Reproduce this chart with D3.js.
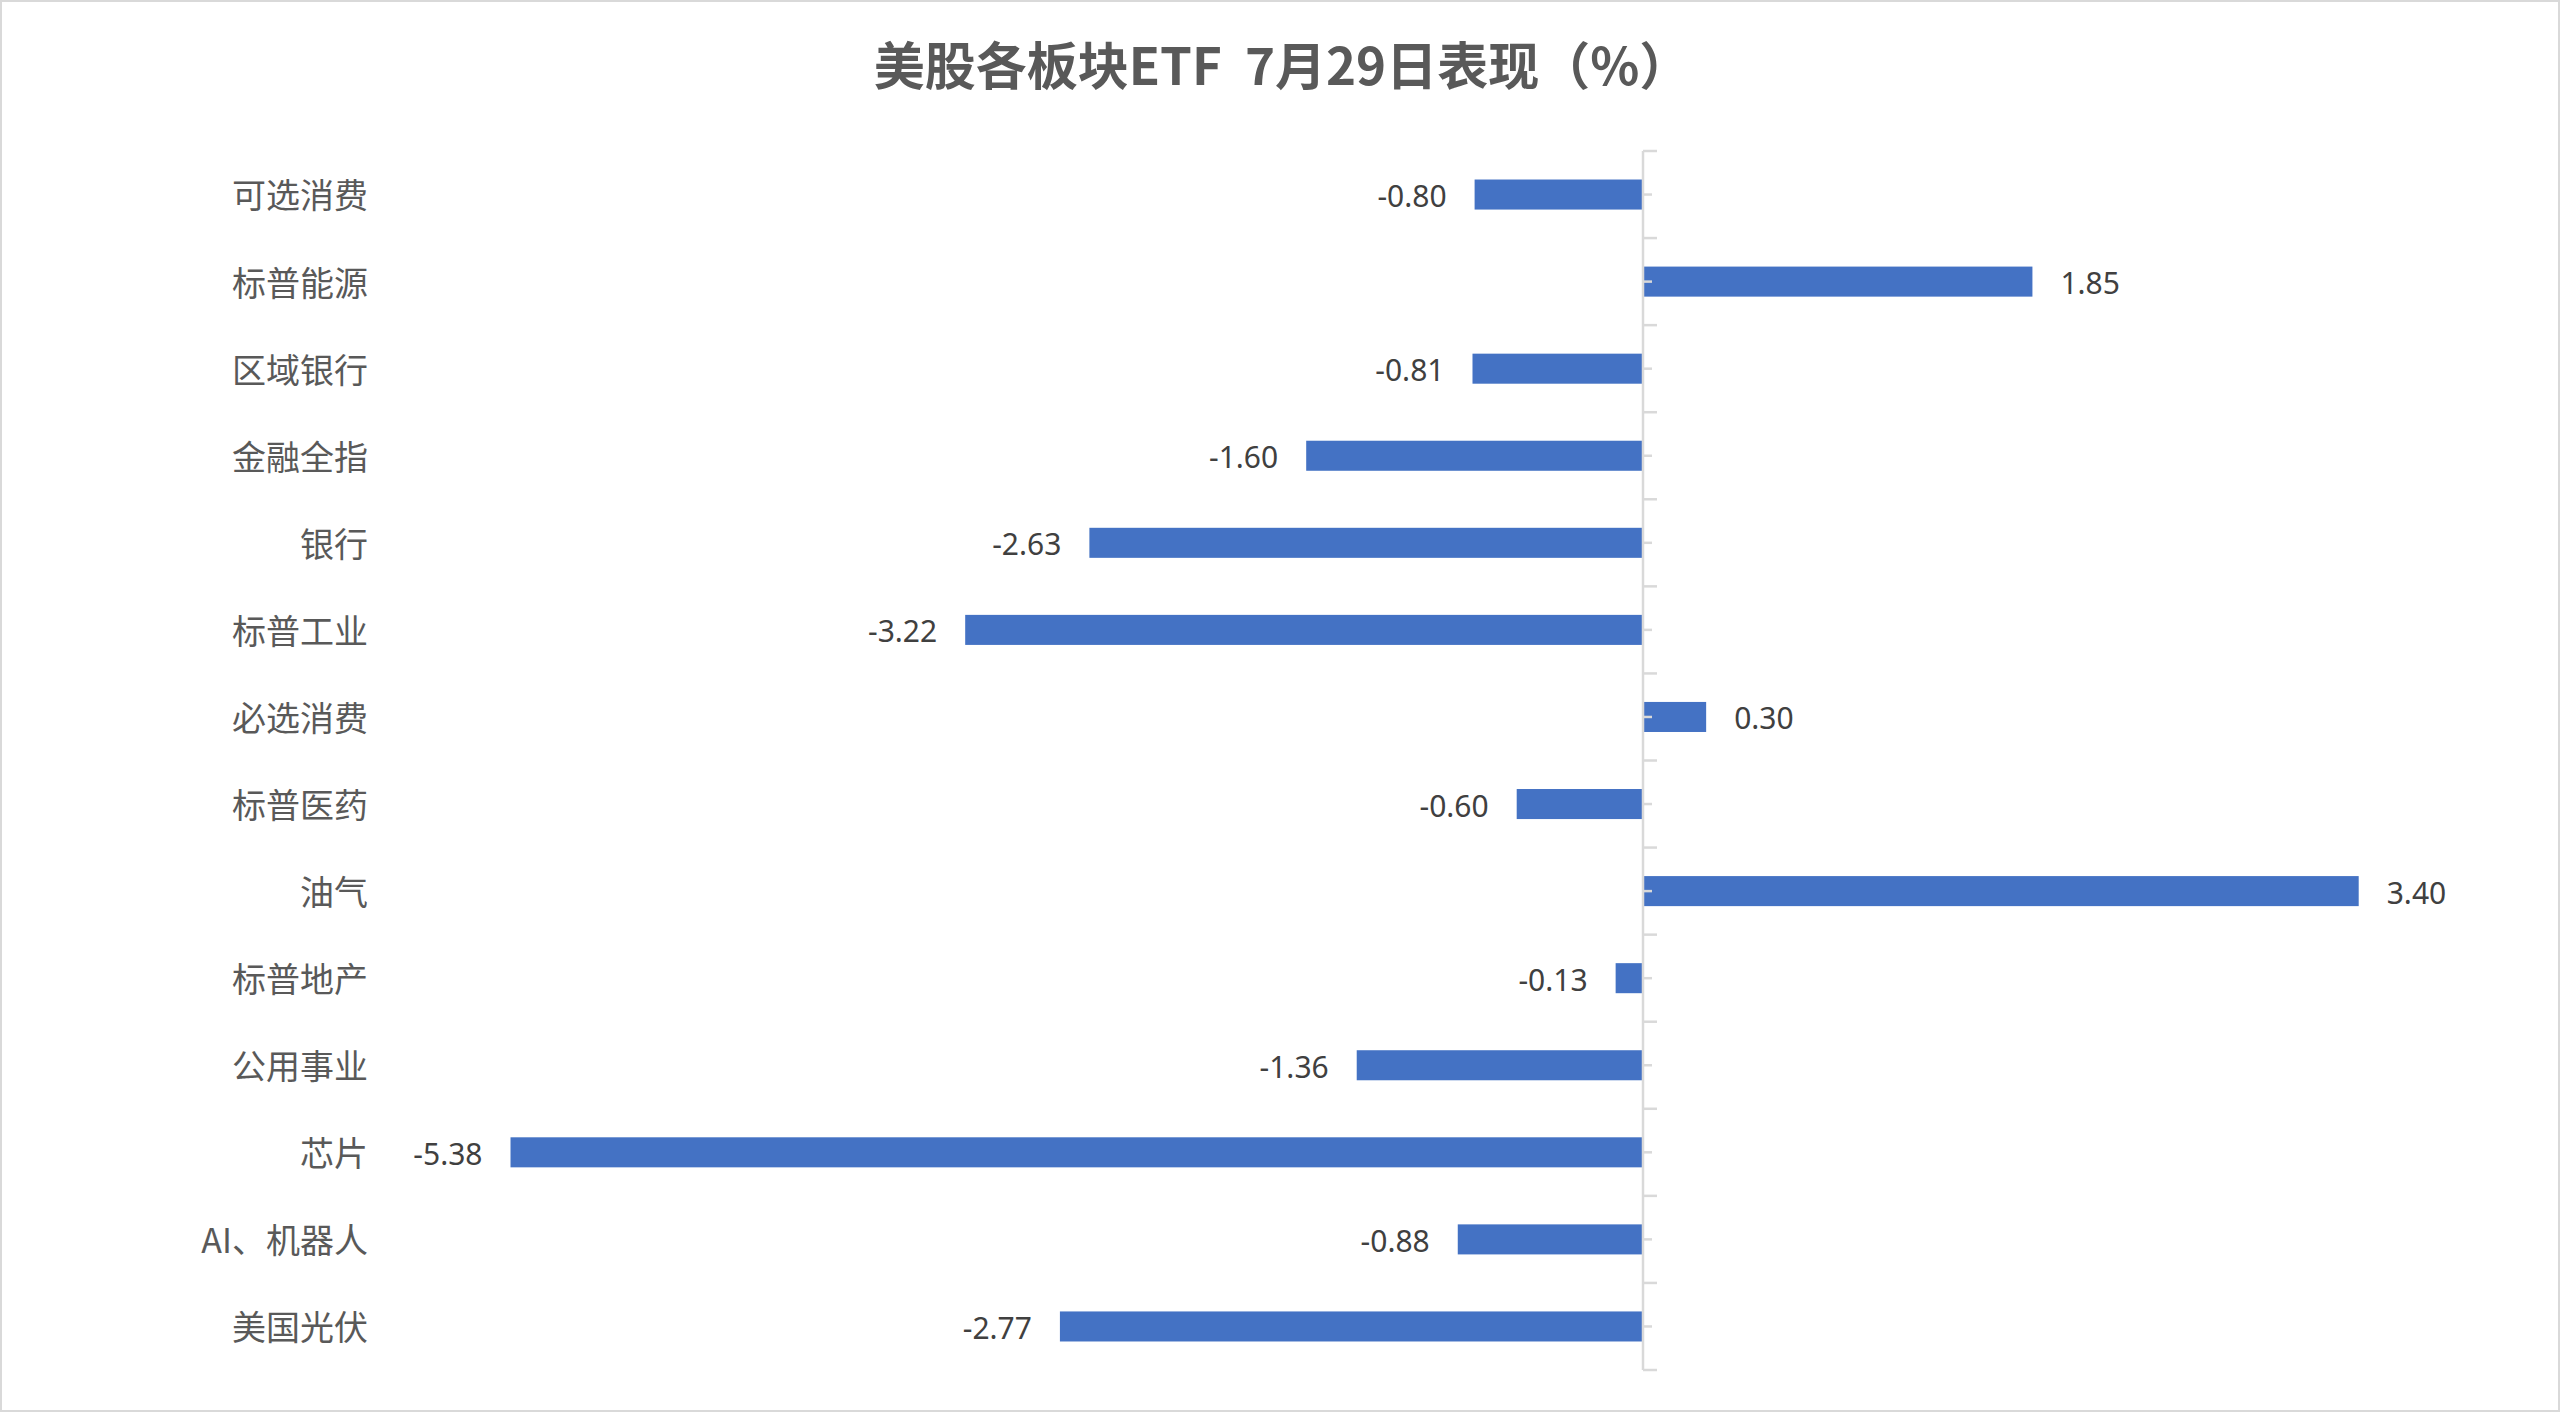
<!DOCTYPE html>
<html>
<head>
<meta charset="utf-8">
<script src="https://cdn.jsdelivr.net/npm/d3@7"></script>
<style>
  html, body { margin: 0; padding: 0; background: #fff; }
  svg { display: block; }
</style>
</head>
<body>
<svg id="chart" width="2560" height="1412"></svg>
<script>
const categories = ["可选消费","标普能源","区域银行","金融全指","银行","标普工业","必选消费","标普医药","油气","标普地产","公用事业","芯片","AI、机器人","美国光伏"];
const values = [-0.80, 1.85, -0.81, -1.60, -2.63, -3.22, 0.30, -0.60, 3.40, -0.13, -1.36, -5.38, -0.88, -2.77];
const labels = ["-0.80","1.85","-0.81","-1.60","-2.63","-3.22","0.30","-0.60","3.40","-0.13","-1.36","-5.38","-0.88","-2.77"];
const titleText = "美股各板块ETF  7月29日表现（%）";
const xDomain = [-6, 4];

const W = 2560, H = 1412;
const svg = d3.select("#chart");

// outer border
svg.append("rect")
  .attr("x", 1).attr("y", 1).attr("width", W - 2).attr("height", H - 2)
  .attr("fill", "#fff").attr("stroke", "#d9d9d9").attr("stroke-width", 2);

// title
svg.append("text")
  .attr("x", 1282).attr("y", 63)
  .attr("text-anchor", "middle").attr("dominant-baseline", "central")
  .attr("font-family", "'Noto Sans CJK SC', 'Noto Sans', sans-serif")
  .attr("font-weight", "bold").attr("font-size", 51)
  .attr("fill", "#595959")
  .style("white-space", "pre")
  .text(titleText);

const x = d3.scaleLinear().domain(xDomain).range([380, 2485]);
const y = d3.scaleBand().domain(categories).range([151, 1370])
  .paddingInner(0.655).paddingOuter(0.3275);

// bars
svg.append("g").selectAll("rect")
  .data(values)
  .join("rect")
  .attr("x", (d) => x(Math.min(0, d)))
  .attr("width", (d) => Math.abs(x(d) - x(0)))
  .attr("y", (d, i) => y(categories[i]))
  .attr("height", y.bandwidth())
  .attr("fill", "#4472C4");

// vertical axis at zero
const x0 = x(0);
const step = y.step();
const bounds = d3.range(categories.length + 1).map(i => 151 + i * step);
const axG = svg.append("g").attr("stroke", "#d9d9d9").attr("stroke-width", 2.5);
axG.append("line")
  .attr("x1", x0).attr("x2", x0)
  .attr("y1", y.range()[0]).attr("y2", y.range()[1]);
axG.selectAll("line.major").data(bounds).join("line").attr("class", "major")
  .attr("x1", x0).attr("x2", x0 + 14)
  .attr("y1", d => d).attr("y2", d => d);

// minor ticks at band centers via d3 axis
const minorAxis = d3.axisRight(y).tickSize(9).tickFormat("");
const mg = svg.append("g").attr("transform", `translate(${x0},0)`).call(minorAxis);
mg.select(".domain").remove();
mg.selectAll(".tick line").attr("stroke", "#d9d9d9").attr("stroke-width", 2.5);

// category labels
const catAxis = d3.axisLeft(y).tickSize(0).tickPadding(0);
const cg = svg.append("g").attr("transform", "translate(368,2)").call(catAxis);
cg.select(".domain").remove();
cg.selectAll(".tick text")
  .attr("font-family", "'Noto Sans CJK SC', sans-serif")
  .attr("font-size", 34)
  .attr("fill", "#595959")
  .attr("dy", "0.35em");

// data labels
svg.append("g").selectAll("text")
  .data(values)
  .join("text")
  .attr("x", d => d < 0 ? x(d) - 28 : x(d) + 28)
  .attr("y", (d, i) => y(categories[i]) + y.bandwidth() / 2 + 2)
  .attr("dy", "0.35em")
  .attr("text-anchor", d => d < 0 ? "end" : "start")
  .attr("font-family", "'Noto Sans', sans-serif")
  .attr("font-size", 30)
  .attr("fill", "#404040")
  .text((d, i) => labels[i]);
</script>
</body>
</html>
